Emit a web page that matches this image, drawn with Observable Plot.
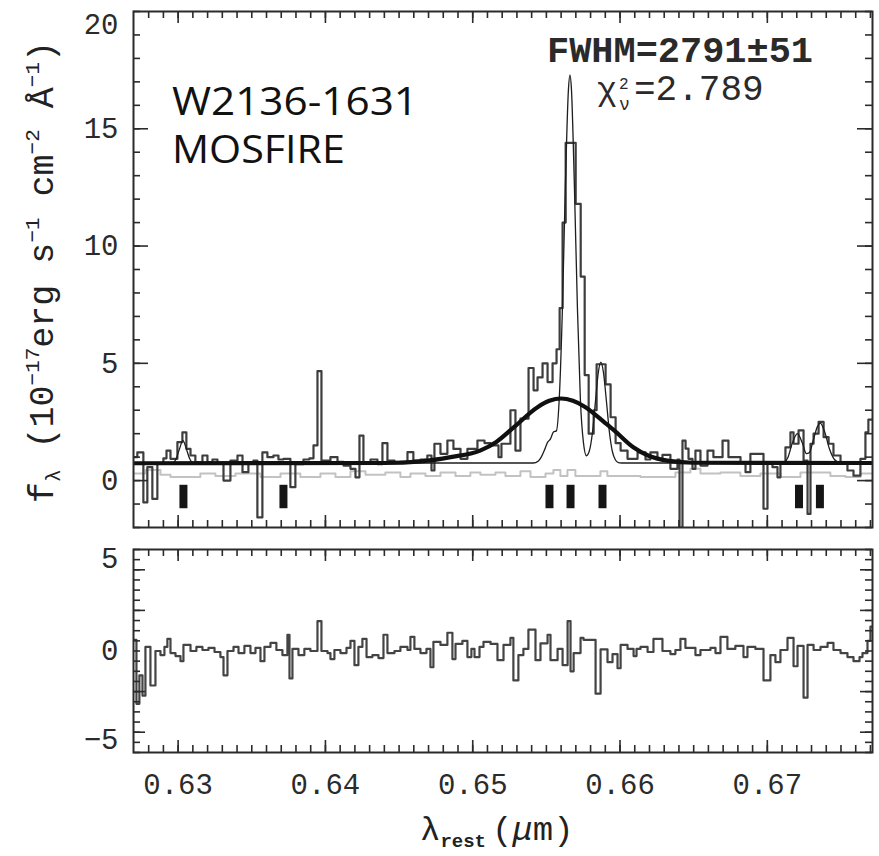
<!DOCTYPE html>
<html>
<head>
<meta charset="utf-8">
<script src="https://cdn.jsdelivr.net/npm/d3@7"></script>
<script src="https://cdn.jsdelivr.net/npm/@observablehq/plot@0.6"></script>
<style>
  html, body { margin: 0; padding: 0; background: #fff; }
  #root { position: relative; width: 879px; height: 856px; overflow: hidden; background: #fff; }
  #root > .panel { position: absolute; left: 0; }
  #overlay { position: absolute; left: 0; top: 0; pointer-events: none; }
</style>
</head>
<body>
<div id="root">
  <div class="panel" id="topPanel" style="top:0px"></div>
  <div class="panel" id="botPanel" style="top:540px"></div>
  <svg id="overlay" width="879" height="856" xmlns="http://www.w3.org/2000/svg">
    <text x="172" y="115" font-family="'Open Sans', sans-serif" font-size="39" fill="#111" textLength="246" lengthAdjust="spacingAndGlyphs">W2136-1631</text>
    <text x="172" y="163" font-family="'Open Sans', sans-serif" font-size="39" fill="#111" textLength="173" lengthAdjust="spacingAndGlyphs">MOSFIRE</text>
    <text x="547" y="62" font-family="'Liberation Mono', monospace" font-weight="bold" font-size="36" fill="#2a2a2a" textLength="266" lengthAdjust="spacingAndGlyphs">FWHM=2791±51</text>
    <text font-family="'Liberation Mono', monospace" font-size="36" fill="#2a2a2a">
      <tspan x="597" y="100" font-size="33">χ</tspan><tspan x="619" y="89" font-size="16">2</tspan><tspan x="619" y="110" font-size="18">ν</tspan><tspan x="634" y="100">=2.789</tspan>
    </text>
    <text transform="translate(53,272) rotate(-90)" text-anchor="middle" font-family="'Liberation Mono', monospace" font-size="35" fill="#222"><tspan>f</tspan><tspan font-size="21" dy="7">λ</tspan><tspan dy="-7"> (10</tspan><tspan font-size="21" dy="-14">−17</tspan><tspan dy="14">erg s</tspan><tspan font-size="21" dy="-14">−1</tspan><tspan dy="14"> cm</tspan><tspan font-size="21" dy="-14">−2</tspan><tspan dy="14"> Å</tspan><tspan font-size="21" dy="-14">−1</tspan><tspan dy="14">)</tspan></text>
    <text x="420" y="840" font-family="'Liberation Mono', monospace" font-size="34" fill="#222"><tspan>λ</tspan><tspan font-size="19" font-weight="bold" dy="7">rest</tspan><tspan dy="-7" dx="6">(</tspan><tspan font-style="italic">μ</tspan><tspan>m)</tspan></text>
  </svg>
</div>
<script>
// ---------------- data ----------------
// observed spectrum (bin left edges, µm) and flux (1e-17 erg/s/cm2/Å)
const specLam = [0.62697,0.62723,0.62764,0.62791,0.62825,0.62859,0.62900,0.62921,0.62948,0.62995,
  0.63029,0.63056,0.63084,0.63117,0.63165,0.63199,0.63233,0.63267,0.63308,0.63355,
  0.63403,0.63437,0.63477,0.63511,0.63538,0.63572,0.63606,0.63647,0.63681,0.63715,
  0.63762,0.63796,0.63851,0.63891,0.63919,0.63946,0.63973,0.64034,0.64082,0.64123,
  0.64170,0.64204,0.64231,0.64258,0.64306,0.64353,0.64387,0.64421,0.64469,0.64509,
  0.64557,0.64597,0.64645,0.64692,0.64720,0.64740,0.64781,0.64828,0.64869,0.64917,
  0.64964,0.65032,0.65080,0.65121,0.65175,0.65195,0.65256,0.65290,0.65324,0.65379,
  0.65413,0.65440,0.65474,0.65508,0.65542,0.65569,0.65590,0.65610,0.65631,0.65699,
  0.65733,0.65760,0.65787,0.65821,0.65841,0.65902,0.65936,0.65970,0.66004,0.66051,
  0.66119,0.66173,0.66206,0.66254,0.66288,0.66342,0.66390,0.66404,0.66424,0.66445,
  0.66465,0.66492,0.66512,0.66546,0.66594,0.66634,0.66696,0.66736,0.66818,0.66852,
  0.66885,0.66974,0.67001,0.67035,0.67069,0.67089,0.67123,0.67157,0.67178,0.67212,
  0.67246,0.67273,0.67293,0.67314,0.67348,0.67382,0.67416,0.67449,0.67497,0.67544,
  0.67585,0.67632,0.67666,0.67686,0.67714];
const specFlux = [1.0,1.2,-0.93,0.57,-0.78,0.71,0.95,1.28,0.93,1.64,
  2.06,1.35,1.07,0.78,1.07,0.78,0.9,0.71,0.0,0.85,
  1.07,0.36,0.71,0.85,-1.57,1.2,1.0,1.07,0.9,0.93,
  -0.28,0.7,0.9,0.95,1.5,4.67,0.85,1.0,0.8,0.64,
  0.5,0.14,1.92,0.78,0.9,0.7,1.6,0.85,0.75,0.8,
  1.21,0.85,0.9,1.07,0.43,1.57,1.14,1.71,1.35,0.93,
  1.35,1.71,1.6,1.5,1.0,1.57,3.0,1.28,2.64,4.8,
  3.85,4.4,5.0,4.2,5.0,5.6,7.35,11.0,14.4,11.8,
  8.7,4.5,2.0,3.0,4.96,4.1,2.7,1.6,1.28,0.93,
  1.2,0.9,1.2,0.9,1.1,0.5,0.9,-2.0,1.7,1.36,
  0.93,0.5,1.28,0.64,1.28,1.0,1.7,1.0,0.78,0.36,
  1.14,-1.2,0.71,0.57,0.14,0.78,1.42,2.06,1.57,2.14,
  0.85,-1.42,1.57,2.0,2.5,1.85,1.57,1.07,0.71,0.43,
  0.21,0.93,2.06,2.6,2.6];

// error spectrum (light grey)
const errLam = [0.62697,0.62778,0.62880,0.62948,0.63151,0.63253,0.63389,0.63559,0.63695,0.63830,
  0.63966,0.64068,0.64170,0.64272,0.64407,0.64509,0.64577,0.64679,0.64781,0.64883,
  0.64984,0.65052,0.65154,0.65222,0.65324,0.65392,0.65494,0.65548,0.65595,0.65643,
  0.65697,0.65867,0.65914,0.66139,0.66376,0.66478,0.66546,0.66682,0.66817,0.66953,
  0.67089,0.67225,0.67428,0.67530,0.67632,0.67714];
const errFlux = [0.3,0.45,0.25,0.15,0.3,0.2,0.3,0.15,0.3,0.15,
  0.3,0.15,0.4,0.25,0.35,0.15,0.3,0.2,0.35,0.2,
  0.35,0.25,0.35,0.2,0.4,0.15,0.3,0.45,0.2,0.45,
  0.2,0.4,0.2,0.15,0.35,0.5,0.3,0.35,0.2,0.3,
  0.15,0.35,0.2,0.15,0.3,0.3];

// continuum + broad H-alpha fit (thick black)
const broadLam = [0.62697,0.6440,0.6465,0.6485,0.6505,0.6516,0.6528,0.6544,0.6552,0.6560,
  0.6568,0.6576,0.6590,0.6596,0.6609,0.6619,0.6632,0.6650,0.67714];
const broadFlux = [0.74,0.75,0.82,1.0,1.28,1.65,2.28,3.13,3.4,3.5,
  3.4,3.15,2.45,2.14,1.42,1.07,0.85,0.76,0.75];

// continuum + narrow lines (thin black)
const narrowLam = [0.62697,0.62961,0.62988,0.63009,0.63033,0.63056,0.63077,0.63104,
  0.65410,0.65446,0.65466,0.65487,0.65507,0.65528,0.65548,0.65568,0.65589,0.65609,
  0.65629,0.65650,0.65660,0.65670,0.65690,0.65711,0.65731,0.65752,0.65772,0.65792,
  0.65813,0.65833,0.65853,0.65870,0.65887,0.65908,0.65928,0.65948,0.65969,0.65989,
  0.66010,0.67103,0.67137,0.67170,0.67204,0.67238,0.67265,0.67286,0.67313,0.67340,
  0.67360,0.67388,0.67422,0.67456,0.67496,0.67714];
const narrowFlux = [0.75,0.75,0.95,1.35,1.7,1.35,0.95,0.75,
  0.75,0.84,1.01,1.30,1.62,1.78,2.07,2.12,3.7,7.38,
  12.6,16.7,17.3,16.7,12.6,7.3,3.44,1.6,1.06,1.27,
  2.06,3.36,4.63,5.05,4.63,3.36,2.06,1.24,0.88,0.77,
  0.75,0.75,0.95,1.6,2.0,1.6,1.15,1.2,1.75,2.3,
  2.45,2.1,1.35,0.9,0.75,0.75];

// emission-line markers
const lineLam = [0.63036,0.63715,0.65521,0.65664,0.65881,0.67215,0.67357];
const markerTop = -0.2, markerBottom = -1.2;

// residuals (bottom panel)
const resLam = [0.62697,0.62717,0.62737,0.62758,0.62778,0.62812,0.62846,0.62880,0.62907,0.62927,
  0.62948,0.62982,0.63016,0.63036,0.63084,0.63124,0.63165,0.63206,0.63247,0.63287,
  0.63308,0.63335,0.63376,0.63410,0.63450,0.63491,0.63525,0.63559,0.63586,0.63627,
  0.63667,0.63708,0.63742,0.63756,0.63776,0.63817,0.63857,0.63898,0.63946,0.63973,
  0.64014,0.64034,0.64061,0.64102,0.64143,0.64170,0.64197,0.64224,0.64251,0.64279,
  0.64319,0.64360,0.64394,0.64421,0.64469,0.64509,0.64557,0.64577,0.64604,0.64645,
  0.64686,0.64713,0.64733,0.64781,0.64828,0.64862,0.64883,0.64930,0.64964,0.64991,
  0.65012,0.65046,0.65073,0.65121,0.65168,0.65209,0.65256,0.65276,0.65310,0.65344,
  0.65378,0.65426,0.65460,0.65508,0.65528,0.65576,0.65610,0.65644,0.65664,0.65685,
  0.65732,0.65752,0.65834,0.65868,0.65915,0.65949,0.65983,0.66004,0.66051,0.66092,
  0.66112,0.66139,0.66187,0.66227,0.66288,0.66342,0.66376,0.66410,0.66444,0.66512,
  0.66546,0.66614,0.66648,0.66682,0.66729,0.66783,0.66838,0.66865,0.66919,0.66974,
  0.67021,0.67055,0.67089,0.67137,0.67178,0.67205,0.67246,0.67273,0.67314,0.67361,
  0.67409,0.67449,0.67497,0.67544,0.67585,0.67626,0.67646,0.67680,0.67700,0.67714];
const resVal = [0.55,-2.6,-1.2,-2.2,0.2,-1.7,0.0,-0.2,0.2,0.6,
  -0.1,-0.25,-0.5,0.3,0.0,0.2,0.05,0.15,-0.05,-0.3,
  -1.2,0.0,0.2,-0.1,0.25,-0.1,0.15,-0.5,0.2,0.4,
  0.05,-0.2,0.8,-1.35,0.1,-0.2,0.1,0.0,1.47,0.0,
  -0.1,-0.4,0.05,-0.1,0.15,0.5,-0.7,0.2,0.6,-0.3,
  -0.2,-0.35,0.8,-0.1,0.0,0.2,0.05,0.7,0.1,-0.1,
  0.1,-0.8,0.45,0.3,0.9,-0.4,0.35,0.5,-0.3,0.1,
  -0.3,0.2,0.45,0.35,-0.45,0.3,0.65,-1.45,-0.2,0.1,
  1.05,-0.45,0.38,0.8,-0.45,0.1,-0.7,1.47,-1.0,-0.1,
  0.65,0.55,-2.1,0.08,-0.55,-0.15,-0.85,0.3,0.1,-0.25,
  0.1,0.2,-0.05,0.6,0.0,-0.15,0.05,0.6,0.15,-0.2,
  0.05,0.15,-0.1,0.7,0.1,0.25,-0.3,0.2,0.1,-1.45,
  -0.2,-0.55,0.05,0.65,-0.75,0.25,-2.3,0.3,0.05,0.2,
  0.4,0.05,-0.1,-0.3,-0.5,-0.3,-0.1,0.5,1.2,1.2];

// axes
const xDomain = [0.62697, 0.67714];
const xTickLabels = [0.63, 0.64, 0.65, 0.66, 0.67];
const topYDomain = [-2, 20];
const topYLabels = [0, 5, 10, 15, 20];
const botYDomain = [-5, 5];
const botYLabels = [-5, 0, 5];

// ---------------- build ----------------
const W = 879, ML = 133, MR = 7;
const innerW = W - ML - MR;
const FONT = "'Liberation Mono', monospace";
const INK = "#2b2b2b";

const spec = specLam.map((x, i) => ({x, y: specFlux[i]}));
const err = errLam.map((x, i) => ({x, y: errFlux[i]}));
const broad = broadLam.map((x, i) => ({x, y: broadFlux[i]}));
const narrow = narrowLam.map((x, i) => ({x, y: narrowFlux[i]}));
const resid = resLam.map((x, i) => ({x, y: resVal[i]}));

const xMinor = d3.range(628, 678).map(d => d / 1000);

function frameTicks(innerH, yMinor, yMajor, yMajorLen) {
  const s = {stroke: INK, strokeWidth: 1.6};
  return [
    Plot.tickY(yMinor, {...s, insetRight: innerW - 7}),
    Plot.tickY(yMinor, {...s, insetLeft: innerW - 7}),
    Plot.tickY(yMajor, {...s, insetRight: innerW - yMajorLen}),
    Plot.tickY(yMajor, {...s, insetLeft: innerW - yMajorLen}),
    Plot.tickX(xMinor, {...s, insetTop: innerH - 7}),
    Plot.tickX(xMinor, {...s, insetBottom: innerH - 7}),
    Plot.tickX(xTickLabels, {...s, insetTop: innerH - 12}),
    Plot.tickX(xTickLabels, {...s, insetBottom: innerH - 12})
  ];
}

// top panel
const topH = 540, topMT = 11, topMB = 13;
const topInnerH = topH - topMT - topMB;
const topPlot = Plot.plot({
  width: W, height: topH,
  marginLeft: ML, marginRight: MR, marginTop: topMT, marginBottom: topMB,
  x: {domain: xDomain, axis: null, label: null},
  y: {domain: topYDomain, label: null},
  style: {fontFamily: FONT, fontSize: "29px", color: INK, background: "transparent", overflow: "visible"},
  marks: [
    Plot.line(err, {x: "x", y: "y", curve: "step-after", stroke: "#c2c2c2", strokeWidth: 2, clip: true}),
    Plot.ruleX(lineLam, {x: d => d, y1: markerTop, y2: markerBottom, stroke: "#151515", strokeWidth: 8}),
    Plot.line(spec, {x: "x", y: "y", curve: "step-after", stroke: "#3d3d3d", strokeWidth: 2.2, clip: true}),
    Plot.line(narrow, {x: "x", y: "y", curve: "monotone-x", stroke: "#1e1e1e", strokeWidth: 1.3, clip: true}),
    Plot.line(broad, {x: "x", y: "y", curve: "monotone-x", stroke: "#101010", strokeWidth: 4.2, clip: true}),
    ...frameTicks(topInnerH, d3.range(-2, 21), [0, 5, 10, 15], 15),
    Plot.frame({stroke: INK, strokeWidth: 2}),
    Plot.axisY(topYLabels.filter(d => d !== 20), {anchor: "left", tickSize: 0, tickPadding: 15, fontSize: 29, label: null}),
    Plot.axisY([20], {anchor: "left", tickSize: 0, tickPadding: 15, fontSize: 29, label: null, dy: 13})
  ]
});
document.getElementById("topPanel").appendChild(topPlot);

// bottom panel
const botH = 300, botMT = 9, botMB = 88;
const botInnerH = botH - botMT - botMB;
const fmtMinus = d => (d < 0 ? "−" + Math.abs(d) : String(d));
const botPlot = Plot.plot({
  width: W, height: botH,
  marginLeft: ML, marginRight: MR, marginTop: botMT, marginBottom: botMB,
  x: {domain: xDomain, label: null},
  y: {domain: botYDomain, label: null},
  style: {fontFamily: FONT, fontSize: "29px", color: INK, background: "transparent", overflow: "visible"},
  marks: [
    Plot.line(resid, {x: "x", y: "y", curve: "step-after", stroke: "#444", strokeWidth: 2.2, clip: true}),
    ...frameTicks(botInnerH, d3.range(-10, 11).map(d => d / 2), [-4, -2, 2, 4], 12),
    Plot.frame({stroke: INK, strokeWidth: 2}),
    Plot.axisY(botYLabels.filter(d => d === 0), {anchor: "left", tickSize: 0, tickPadding: 15, fontSize: 29, label: null, tickFormat: fmtMinus}),
    Plot.axisY(botYLabels.filter(d => d > 0), {anchor: "left", tickSize: 0, tickPadding: 15, fontSize: 29, label: null, dy: 9, tickFormat: fmtMinus}),
    Plot.axisY(botYLabels.filter(d => d < 0), {anchor: "left", tickSize: 0, tickPadding: 15, fontSize: 29, label: null, dy: -13, tickFormat: fmtMinus}),
    Plot.axisX(xTickLabels, {anchor: "bottom", tickSize: 0, tickPadding: 21, fontSize: 29, label: null, tickFormat: d3.format(".2f")})
  ]
});
document.getElementById("botPanel").appendChild(botPlot);
</script>
</body>
</html>
